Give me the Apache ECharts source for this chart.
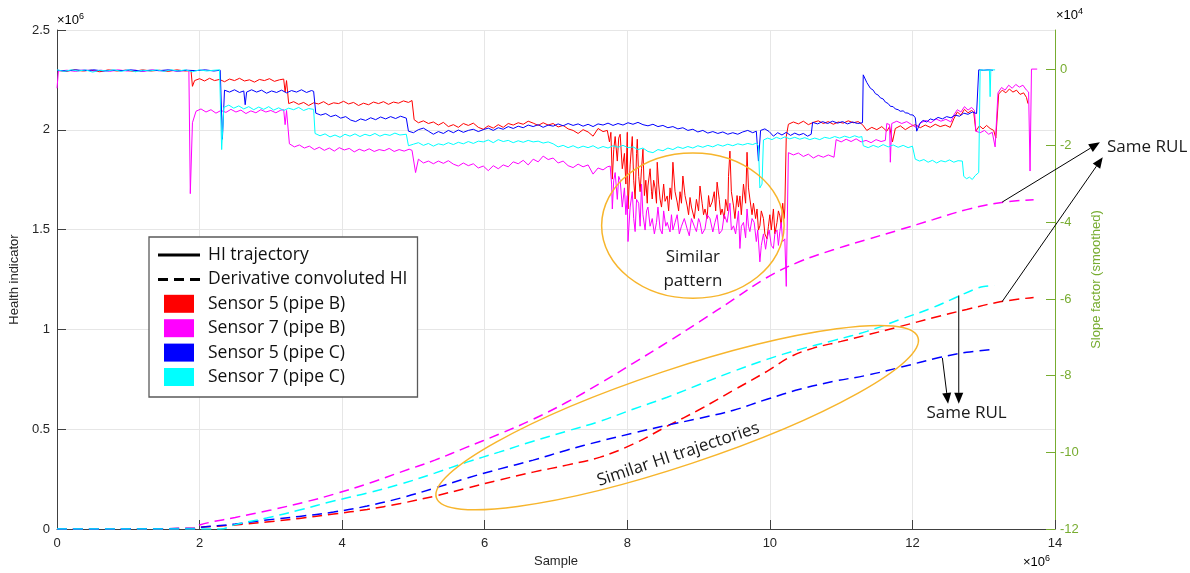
<!DOCTYPE html>
<html>
<head>
<meta charset="utf-8">
<title>Health indicator vs sample</title>
<script src="https://cdn.jsdelivr.net/npm/echarts@6/dist/echarts.min.js"></script>
<style>
  html, body { margin: 0; padding: 0; background: #fff; }
  #mychart { width: 1190px; height: 573px; }
</style>
</head>
<body>
<div id="mychart"></div>
<script>
// x in 1e6 samples, left axis in 1e6, right axis in 1e4
const slopeTicks = [-12, -10, -8, -6, -4, -2, 0];

// solid lines (right axis, slope factor)
const solid5B = [
  [0,-0.03],[0.12,-0.06],[0.24,-0.02],[0.36,-0.05],[0.48,-0.03],[0.6,-0.07],[0.72,-0.02],[0.84,-0.05],[0.96,-0.03],[1.08,-0.06],[1.2,-0.02],[1.32,-0.05],[1.44,-0.03],[1.56,-0.06],[1.68,-0.02],[1.8,-0.05],[1.88,-0.04],
  [1.9,-0.45],[1.93,-0.3],[2.0,-0.25],[2.07,-0.31],[2.14,-0.24],[2.21,-0.3],[2.28,-0.27],[2.35,-0.33],[2.42,-0.26],[2.49,-0.3],[2.56,-0.24],[2.63,-0.31],[2.7,-0.28],[2.77,-0.34],[2.84,-0.27],[2.91,-0.3],[2.98,-0.25],[3.05,-0.32],[3.12,-0.28],[3.18,-0.26],[3.2,-0.6],[3.22,-0.3],
  [3.25,-0.9],[3.32,-0.85],[3.39,-0.92],[3.46,-0.87],[3.53,-0.95],[3.6,-0.88],[3.67,-0.91],[3.74,-0.85],[3.81,-0.93],[3.88,-0.88],[3.95,-0.9],[4.02,-0.84],[4.09,-0.91],[4.16,-0.87],[4.23,-0.95],[4.3,-0.89],[4.37,-0.93],[4.44,-0.86],[4.51,-0.9],[4.58,-0.85],[4.65,-0.92],[4.72,-0.86],[4.79,-0.89],[4.86,-0.83],[4.93,-0.87],[4.98,-0.82],
  [5.01,-1.32],[5.07,-1.4],[5.14,-1.35],[5.21,-1.42],[5.28,-1.38],[5.35,-1.46],[5.42,-1.39],[5.49,-1.5],[5.56,-1.45],[5.63,-1.52],[5.7,-1.42],[5.77,-1.47],[5.84,-1.41],[5.91,-1.52],[5.98,-1.57],[6.05,-1.48],[6.12,-1.54],[6.19,-1.45],[6.26,-1.52],[6.33,-1.42],[6.4,-1.46],[6.47,-1.4],[6.54,-1.44],[6.61,-1.36],[6.68,-1.41],[6.75,-1.47],[6.82,-1.4],[6.89,-1.46],[6.96,-1.42],[7.03,-1.51],[7.1,-1.47],[7.17,-1.56],[7.24,-1.6],[7.31,-1.68],[7.38,-1.58],[7.45,-1.64],[7.52,-1.75],[7.59,-1.55],[7.66,-1.63],
  [7.72,-1.6],[7.75,-1.9],[7.77,-1.65],[7.79,-2.87],[7.81,-2.1],[7.83,-1.76],[7.86,-2.4],[7.88,-1.8],[7.9,-1.7],[7.93,-2.6],[7.96,-2.2],[7.98,-3.0],[8.0,-1.65],[8.01,-3.65],[8.04,-2.5],[8.07,-1.76],[8.09,-2.9],[8.11,-3.39],[8.13,-2.2],[8.14,-1.83],[8.16,-2.8],[8.18,-3.2],[8.2,-2.6],[8.22,-2.09],[8.24,-3.3],[8.26,-2.9],[8.28,-3.5],[8.29,-3.05],[8.32,-2.6],[8.34,-3.2],[8.35,-3.39],[8.37,-2.9],[8.39,-3.1],[8.41,-3.5],[8.42,-2.43],[8.44,-3.0],[8.46,-3.39],[8.48,-3.6],[8.51,-3.0],[8.53,-3.45],[8.56,-3.31],[8.58,-3.7],[8.6,-3.1],[8.62,-3.4],[8.64,-2.43],[8.67,-3.2],[8.7,-3.47],[8.72,-3.7],[8.74,-3.2],[8.76,-3.5],[8.78,-2.79],[8.81,-3.3],[8.84,-3.57],[8.86,-3.8],[8.88,-3.35],[8.9,-3.6],[8.92,-3.65],[8.94,-3.9],[8.97,-3.4],[9.0,-3.7],[9.02,-3.05],[9.05,-3.5],[9.07,-3.8],[9.09,-3.65],[9.12,-3.9],[9.14,-3.3],[9.16,-3.6],[9.19,-3.47],[9.22,-3.2],[9.24,-3.7],[9.26,-2.95],[9.29,-3.4],[9.31,-3.8],[9.33,-3.65],[9.36,-3.9],[9.38,-3.4],[9.41,-3.7],[9.42,-2.8],[9.44,-2.14],[9.46,-3.2],[9.49,-3.57],[9.51,-3.9],[9.54,-3.3],[9.56,-3.6],[9.58,-3.31],[9.6,-3.8],[9.63,-3.0],[9.66,-3.5],[9.68,-2.17],[9.7,-3.1],[9.72,-3.39],[9.75,-3.8],[9.77,-3.5],[9.8,-3.9],[9.82,-3.65],[9.84,-4.2],[9.86,-4.09],[9.88,-3.7],[9.91,-3.9],[9.93,-4.3],[9.96,-4.43],[9.98,-4.1],[10.0,-3.8],[10.02,-4.2],[10.05,-3.65],[10.07,-4.3],[10.1,-4.0],[10.12,-3.7],[10.14,-3.83],[10.16,-4.1],[10.18,-3.5],[10.2,-3.9],[10.21,-3.65],[10.23,-1.76],
  [10.26,-1.44],[10.33,-1.38],[10.4,-1.43],[10.47,-1.36],[10.54,-1.45],[10.61,-1.39],[10.68,-1.35],[10.75,-1.42],[10.82,-1.37],[10.89,-1.44],[10.96,-1.38],[11.03,-1.41],[11.1,-1.35],[11.17,-1.4],[11.24,-1.37],[11.3,-1.45],[11.36,-1.6],[11.43,-1.52],[11.5,-1.58],[11.57,-1.5],[11.64,-1.62],[11.68,-1.5],[11.72,-1.9],[11.76,-1.55],[11.83,-1.48],[11.9,-1.58],[11.97,-1.5],[12.04,-1.45],[12.11,-1.53],[12.18,-1.46],[12.25,-1.52],[12.32,-1.44],[12.39,-1.5],[12.46,-1.46],[12.53,-1.52],[12.58,-1.3],[12.63,-1.12],[12.68,-1.2],[12.73,-1.05],[12.78,-1.14],[12.83,-1.08],[12.86,-1.12],[12.89,-1.62],[12.94,-1.48],[12.99,-1.56],[13.04,-1.47],[13.09,-1.55],[13.14,-1.6],[13.17,-1.8],[13.21,-0.65],[13.26,-0.55],[13.31,-0.62],[13.36,-0.52],[13.41,-0.6],[13.46,-0.55],[13.51,-0.66],[13.56,-0.62],[13.6,-0.74],[13.62,-0.9]
];
const solid7B = [
  [0,-0.5],[0.02,-0.05],[0.14,-0.03],[0.26,-0.06],[0.38,-0.02],[0.5,-0.05],[0.62,-0.03],[0.74,-0.06],[0.86,-0.02],[0.98,-0.05],[1.1,-0.03],[1.22,-0.06],[1.34,-0.02],[1.46,-0.05],[1.58,-0.03],[1.7,-0.06],[1.82,-0.03],[1.85,-0.05],
  [1.87,-3.25],[1.9,-1.4],[1.95,-1.1],[2.02,-1.04],[2.09,-1.12],[2.16,-1.06],[2.23,-1.15],[2.3,-1.08],[2.37,-1.13],[2.44,-1.05],[2.51,-1.12],[2.58,-1.07],[2.65,-1.16],[2.72,-1.09],[2.79,-1.14],[2.86,-1.06],[2.93,-1.12],[3.0,-1.08],[3.07,-1.14],[3.14,-1.07],[3.18,-1.06],[3.2,-1.45],[3.22,-1.08],
  [3.26,-1.95],[3.33,-2.03],[3.4,-1.98],[3.47,-2.06],[3.54,-2.01],[3.61,-2.1],[3.68,-2.04],[3.75,-2.12],[3.82,-2.06],[3.89,-2.14],[3.96,-2.05],[4.03,-2.11],[4.1,-2.07],[4.17,-2.16],[4.24,-2.09],[4.31,-2.14],[4.38,-2.08],[4.45,-2.15],[4.52,-2.1],[4.59,-2.13],[4.66,-2.07],[4.73,-2.15],[4.8,-2.1],[4.87,-2.14],[4.94,-2.09],[4.98,-2.12],
  [5.03,-2.7],[5.07,-2.35],[5.14,-2.45],[5.21,-2.4],[5.28,-2.47],[5.35,-2.4],[5.42,-2.46],[5.49,-2.39],[5.56,-2.48],[5.63,-2.53],[5.7,-2.45],[5.77,-2.52],[5.84,-2.47],[5.91,-2.58],[5.98,-2.53],[6.05,-2.65],[6.12,-2.52],[6.19,-2.6],[6.26,-2.5],[6.33,-2.55],[6.4,-2.42],[6.47,-2.47],[6.54,-2.38],[6.61,-2.5],[6.68,-2.35],[6.75,-2.42],[6.82,-2.27],[6.89,-2.36],[6.96,-2.32],[7.03,-2.45],[7.1,-2.4],[7.17,-2.52],[7.24,-2.57],[7.31,-2.48],[7.38,-2.55],[7.45,-2.5],[7.52,-2.74],[7.59,-2.58],[7.66,-2.63],[7.72,-2.55],
  [7.76,-2.53],[7.78,-3.0],[7.79,-3.65],[7.81,-2.9],[7.83,-2.7],[7.86,-3.4],[7.88,-2.8],[7.9,-2.9],[7.93,-3.6],[7.96,-3.1],[7.98,-3.8],[8.0,-3.3],[8.01,-4.5],[8.04,-3.6],[8.07,-3.2],[8.09,-3.9],[8.11,-4.24],[8.13,-3.4],[8.16,-3.5],[8.18,-4.1],[8.2,-3.0],[8.22,-3.8],[8.25,-4.2],[8.27,-3.7],[8.29,-3.6],[8.32,-4.1],[8.35,-3.9],[8.38,-4.3],[8.41,-4.0],[8.43,-3.6],[8.46,-4.17],[8.49,-4.3],[8.51,-3.7],[8.54,-4.1],[8.56,-4.0],[8.6,-4.25],[8.62,-3.8],[8.64,-4.2],[8.67,-4.0],[8.7,-3.8],[8.73,-4.3],[8.76,-4.1],[8.8,-3.9],[8.84,-4.17],[8.87,-4.35],[8.9,-3.9],[8.94,-4.1],[8.97,-4.24],[9.0,-3.9],[9.02,-4.0],[9.05,-4.3],[9.09,-4.17],[9.12,-3.8],[9.16,-3.9],[9.2,-4.25],[9.23,-4.0],[9.26,-3.8],[9.29,-4.3],[9.33,-4.2],[9.36,-3.8],[9.4,-4.0],[9.44,-3.5],[9.46,-4.2],[9.49,-4.09],[9.52,-4.3],[9.56,-3.7],[9.58,-4.68],[9.6,-4.1],[9.63,-4.0],[9.66,-4.4],[9.68,-3.65],[9.7,-4.1],[9.72,-4.24],[9.75,-3.9],[9.78,-4.0],[9.81,-4.5],[9.83,-4.2],[9.86,-5.03],[9.88,-4.6],[9.91,-4.3],[9.94,-4.7],[9.96,-4.43],[9.99,-4.2],[10.02,-4.6],[10.05,-4.68],[10.07,-4.3],[10.1,-4.2],[10.12,-4.6],[10.14,-4.24],[10.16,-4.0],[10.18,-4.5],[10.21,-4.43],[10.23,-5.67],
  [10.26,-2.18],[10.33,-2.24],[10.4,-2.19],[10.47,-2.28],[10.54,-2.22],[10.61,-2.32],[10.68,-2.25],[10.75,-2.3],[10.82,-2.24],[10.9,-2.3],[10.93,-1.84],[11.0,-1.9],[11.07,-1.83],[11.14,-1.89],[11.21,-1.82],[11.28,-1.9],[11.35,-1.86],[11.42,-1.92],[11.49,-1.84],[11.56,-1.89],[11.62,-1.86],[11.64,-1.42],[11.68,-1.45],[11.69,-2.43],[11.71,-1.42],[11.78,-1.36],[11.85,-1.42],[11.92,-1.37],[11.99,-1.45],[12.05,-1.52],[12.12,-1.4],[12.19,-1.34],[12.26,-1.4],[12.33,-1.3],[12.4,-1.36],[12.47,-1.31],[12.54,-1.38],[12.58,-1.2],[12.63,-1.06],[12.68,-1.12],[12.73,-0.98],[12.78,-1.07],[12.83,-1.0],[12.87,-1.08],[12.89,-1.62],[12.95,-1.66],[13.01,-1.6],[13.07,-1.7],[13.12,-1.65],[13.16,-2.03],[13.2,-0.62],[13.25,-0.48],[13.3,-0.55],[13.35,-0.42],[13.4,-0.5],[13.45,-0.4],[13.5,-0.47],[13.55,-0.42],[13.6,-0.55],[13.63,-0.6],[13.65,-2.66],[13.67,0],[13.75,0]
];
const solid5C = [
  [0,-0.03],[0.13,-0.05],[0.26,-0.02],[0.39,-0.04],[0.52,-0.02],[0.65,-0.05],[0.78,-0.03],[0.91,-0.04],[1.04,-0.02],[1.17,-0.05],[1.3,-0.03],[1.43,-0.04],[1.56,-0.02],[1.69,-0.05],[1.82,-0.03],[1.95,-0.04],[2.08,-0.02],[2.2,-0.05],[2.29,-0.03],
  [2.32,-1.83],[2.35,-0.55],[2.42,-0.6],[2.49,-0.54],[2.56,-0.61],[2.62,-0.57],[2.64,-0.93],[2.66,-0.6],[2.73,-0.54],[2.8,-0.6],[2.87,-0.55],[2.94,-0.63],[3.01,-0.57],[3.08,-0.61],[3.15,-0.55],[3.22,-0.62],[3.29,-0.56],[3.36,-0.6],[3.43,-0.54],[3.5,-0.61],[3.57,-0.56],[3.6,-0.58],
  [3.63,-1.15],[3.7,-1.2],[3.77,-1.16],[3.84,-1.24],[3.91,-1.2],[3.98,-1.28],[4.05,-1.24],[4.12,-1.33],[4.19,-1.37],[4.26,-1.3],[4.33,-1.34],[4.4,-1.27],[4.47,-1.32],[4.54,-1.25],[4.61,-1.3],[4.68,-1.24],[4.75,-1.29],[4.82,-1.23],[4.9,-1.28],
  [4.93,-1.62],[5.0,-1.66],[5.07,-1.58],[5.14,-1.54],[5.21,-1.62],[5.28,-1.7],[5.35,-1.63],[5.42,-1.68],[5.49,-1.6],[5.56,-1.66],[5.63,-1.59],[5.7,-1.65],[5.77,-1.6],[5.84,-1.57],[5.91,-1.63],[5.98,-1.58],[6.05,-1.54],[6.12,-1.6],[6.19,-1.53],[6.26,-1.57],[6.33,-1.5],[6.4,-1.55],[6.47,-1.49],[6.54,-1.53],[6.61,-1.46],[6.68,-1.5],[6.75,-1.45],[6.82,-1.52],[6.89,-1.46],[6.96,-1.49],[7.03,-1.43],[7.1,-1.48],[7.17,-1.42],[7.24,-1.47],[7.31,-1.43],[7.38,-1.49],[7.45,-1.44],[7.52,-1.5],[7.59,-1.43],[7.66,-1.46],[7.73,-1.41],[7.8,-1.47],[7.87,-1.42],[7.94,-1.46],[8.01,-1.4],[8.08,-1.44],[8.15,-1.39],[8.22,-1.45],[8.29,-1.48],[8.36,-1.44],[8.43,-1.5],[8.5,-1.47],[8.57,-1.53],[8.64,-1.5],[8.71,-1.56],[8.78,-1.53],[8.85,-1.6],[8.92,-1.57],[8.99,-1.64],[9.06,-1.6],[9.13,-1.67],[9.2,-1.63],[9.27,-1.68],[9.34,-1.64],[9.41,-1.7],[9.48,-1.66],[9.55,-1.7],[9.62,-1.64],[9.69,-1.6],[9.76,-1.66],[9.81,-1.62],[9.84,-2.4],[9.87,-1.6],[9.93,-1.56],[9.99,-1.63],[10.05,-1.75],[10.11,-1.66],[10.17,-1.72],[10.23,-1.65],[10.29,-1.73],[10.35,-1.67],[10.41,-1.72],[10.47,-1.68],[10.53,-1.75],[10.58,-1.7],
  [10.6,-1.39],[10.67,-1.43],[10.74,-1.37],[10.81,-1.42],[10.88,-1.36],[10.95,-1.41],[11.02,-1.37],[11.09,-1.43],[11.16,-1.38],[11.23,-1.42],[11.3,-1.4],
  [11.31,-0.15],[11.36,-0.35],[11.41,-0.5],[11.45,-0.55],[11.48,-0.64],[11.52,-0.68],[11.55,-0.75],[11.59,-0.78],[11.62,-0.86],[11.66,-0.9],[11.69,-0.97],[11.73,-0.98],[11.76,-1.04],[11.8,-1.06],[11.83,-1.1],[11.87,-1.09],[11.9,-1.14],[11.94,-1.15],[11.97,-1.19],[12.01,-1.2],[12.04,-1.27],[12.06,-1.62],[12.11,-1.4],[12.15,-1.34],[12.2,-1.38],[12.25,-1.3],[12.3,-1.33],[12.36,-1.26],[12.42,-1.3],[12.48,-1.24],[12.54,-1.27],[12.6,-1.2],[12.66,-1.23],[12.72,-1.15],[12.78,-1.18],[12.84,-1.12],[12.9,-1.16],
  [12.93,-0.02],[13.0,-0.03],[13.06,-0.02],[13.13,-0.03]
];
const solid7C = [
  [0,-0.02],[0.1,-0.06],[0.2,-0.02],[0.3,-0.05],[0.4,-0.02],[0.5,-0.08],[0.6,-0.03],[0.7,-0.05],[0.8,-0.02],[0.9,-0.06],[1.0,-0.02],[1.1,-0.07],[1.2,-0.03],[1.3,-0.05],[1.4,-0.02],[1.5,-0.06],[1.6,-0.02],[1.7,-0.05],[1.8,-0.02],[1.9,-0.07],[2.0,-0.02],[2.1,-0.05],[2.2,-0.03],[2.28,-0.02],
  [2.31,-2.1],[2.34,-1.0],[2.41,-0.94],[2.48,-1.02],[2.55,-0.96],[2.62,-1.04],[2.69,-0.98],[2.76,-1.06],[2.83,-0.99],[2.9,-1.05],[2.97,-0.98],[3.04,-1.07],[3.11,-1.01],[3.18,-1.08],[3.25,-1.02],[3.32,-1.06],[3.39,-1.0],[3.46,-1.08],[3.53,-1.03],[3.6,-1.05],
  [3.62,-1.68],[3.69,-1.74],[3.76,-1.69],[3.83,-1.77],[3.9,-1.72],[3.97,-1.78],[4.04,-1.7],[4.11,-1.75],[4.18,-1.69],[4.25,-1.76],[4.32,-1.7],[4.39,-1.74],[4.46,-1.68],[4.53,-1.75],[4.6,-1.7],[4.67,-1.73],[4.74,-1.67],[4.81,-1.72],[4.9,-1.7],
  [4.93,-2.0],[5.0,-1.96],[5.07,-1.92],[5.14,-1.99],[5.21,-1.94],[5.28,-2.01],[5.35,-1.95],[5.42,-1.98],[5.49,-1.92],[5.56,-1.97],[5.63,-1.91],[5.7,-1.95],[5.77,-1.89],[5.84,-1.94],[5.91,-1.88],[5.98,-1.9],[6.05,-1.85],[6.12,-1.92],[6.19,-1.84],[6.26,-1.89],[6.33,-1.86],[6.4,-1.92],[6.47,-1.87],[6.54,-1.91],[6.61,-1.86],[6.68,-1.9],[6.75,-1.88],[6.82,-1.93],[6.89,-1.9],[6.96,-1.95],[7.03,-2.03],[7.1,-1.99],[7.17,-2.05],[7.24,-2.0],[7.31,-2.06],[7.38,-2.01],[7.45,-2.05],[7.52,-2.0],[7.59,-2.07],[7.66,-2.02],[7.73,-2.06],[7.8,-2.0],[7.87,-2.04],[7.94,-1.99],[8.01,-2.05],[8.08,-2.03],[8.15,-2.1],[8.22,-2.06],[8.29,-2.15],[8.36,-2.18],[8.43,-2.1],[8.5,-2.13],[8.57,-2.06],[8.64,-2.1],[8.71,-2.03],[8.78,-2.07],[8.85,-2.02],[8.92,-2.06],[8.99,-2.0],[9.06,-2.04],[9.13,-1.99],[9.2,-2.03],[9.27,-1.97],[9.34,-2.01],[9.41,-1.96],[9.48,-2.0],[9.55,-1.95],[9.62,-1.98],[9.69,-1.94],[9.76,-1.97],[9.81,-1.93],[9.84,-2.0],[9.86,-3.1],[9.89,-3.0],[9.91,-1.85],[9.97,-1.8],[10.03,-1.84],[10.09,-1.78],[10.15,-1.82],[10.21,-1.77],[10.28,-1.82],[10.35,-1.78],[10.42,-1.83],[10.49,-1.79],[10.56,-1.84],[10.63,-1.8],[10.7,-1.84],[10.77,-1.78],[10.84,-1.81],[10.91,-1.76],[10.98,-1.8],[11.05,-1.75],[11.12,-1.79],[11.19,-1.74],[11.25,-1.78],[11.29,-1.76],
  [11.31,-2.0],[11.38,-2.05],[11.45,-1.99],[11.52,-2.04],[11.59,-1.97],[11.66,-2.03],[11.73,-1.98],[11.8,-2.04],[11.87,-1.99],[11.94,-2.05],[12.0,-2.01],[12.02,-2.05],[12.04,-2.35],[12.1,-2.4],[12.16,-2.36],[12.22,-2.43],[12.28,-2.38],[12.34,-2.45],[12.4,-2.39],[12.46,-2.42],[12.52,-2.37],[12.58,-2.43],[12.64,-2.39],[12.7,-2.4],[12.72,-2.8],[12.76,-2.86],[12.8,-2.82],[12.84,-2.88],[12.88,-2.78],[12.93,-2.7],
  [12.95,-0.02],[13.02,-0.03],[13.08,-0.02],[13.09,-0.72],[13.1,-0.02],[13.16,-0.02]
];

// dashed lines (left axis, health indicator)
const dashed5B = [[0,0],[1.97,0.003],[2.0,0.008],[2.5,0.02],[2.94,0.035],[3.4,0.053],[3.88,0.075],[4.35,0.098],[4.82,0.128],[5.3,0.165],[5.75,0.205],[6.2,0.245],[6.68,0.285],[7.15,0.32],[7.62,0.36],[8.08,0.425],[8.56,0.515],[9.02,0.6],[9.49,0.695],[9.96,0.79],[10.3,0.865],[10.6,0.905],[11.0,0.94],[11.36,0.972],[11.83,1.015],[12.29,1.058],[12.76,1.1],[13.23,1.138],[13.7,1.16]];
const dashed7B = [[0,0],[1.97,0.003],[2.0,0.02],[2.5,0.058],[3.0,0.095],[3.5,0.137],[3.9,0.176],[4.4,0.232],[4.82,0.285],[5.3,0.345],[5.75,0.41],[6.2,0.475],[6.68,0.55],[7.15,0.635],[7.62,0.73],[8.08,0.83],[8.56,0.935],[9.02,1.04],[9.49,1.15],[9.96,1.26],[10.42,1.34],[10.9,1.4],[11.36,1.45],[11.83,1.5],[12.29,1.55],[12.76,1.6],[13.23,1.635],[13.7,1.65]];
const dashed5C = [[0,0],[1.97,0.003],[2.0,0.008],[2.5,0.025],[2.94,0.045],[3.4,0.063],[3.88,0.085],[4.35,0.115],[4.82,0.155],[5.3,0.205],[5.75,0.255],[6.2,0.3],[6.68,0.345],[7.15,0.395],[7.62,0.44],[8.08,0.48],[8.56,0.52],[9.02,0.555],[9.49,0.595],[9.96,0.65],[10.42,0.7],[10.9,0.74],[11.36,0.77],[11.83,0.81],[12.39,0.86],[12.76,0.885],[13.13,0.9]];
const dashed7C = [[0,0],[2.29,0],[2.5,0.022],[2.94,0.055],[3.4,0.095],[3.88,0.14],[4.35,0.18],[4.82,0.225],[5.3,0.28],[5.75,0.335],[6.2,0.385],[6.68,0.44],[7.15,0.49],[7.62,0.54],[8.08,0.6],[8.56,0.66],[9.02,0.725],[9.49,0.79],[9.96,0.85],[10.42,0.9],[10.9,0.945],[11.36,0.99],[11.83,1.05],[12.29,1.11],[12.67,1.17],[12.9,1.205],[13.0,1.215],[13.15,1.22]];

const sensorNames = ["Sensor 5 (pipe B)", "Sensor 7 (pipe B)", "Sensor 5 (pipe C)", "Sensor 7 (pipe C)"];
const sensorColors = ["#ff0000", "#ff00ff", "#0000ff", "#00ffff"];
const solidData = [solid5B, solid7B, solid5C, solid7C];
const dashedData = [dashed5B, dashed7B, dashed5C, dashed7C];

// annotation arrows, in data coords of the left axis
const orange = "#f7b52c";
const arrows = [
  [[13.26, 1.638], [14.63, 1.937]],
  [[13.26, 1.14], [14.67, 1.863]],
  [[12.42, 0.857], [12.5, 0.627]],
  [[12.65, 1.17], [12.65, 0.627]]
];

const axisGray = "#404040";
const textGray = "#262626";
const green = "#77ac30";

const chart = echarts.init(document.getElementById("mychart"));

const series = [
  { name: "HI trajectory", type: "line", yAxisIndex: 1, data: [], symbol: "none", color: "#000" },
  { name: "Derivative convoluted HI", type: "line", yAxisIndex: 0, data: [], symbol: "none", color: "#000", lineStyle: { type: [10, 6] } }
];
sensorNames.forEach((name, i) => {
  series.push({
    name: name, type: "line", yAxisIndex: 1, data: solidData[i],
    symbol: "none", color: sensorColors[i], lineStyle: { width: 1 }, z: 2
  });
});
sensorNames.forEach((name, i) => {
  series.push({
    name: name, type: "line", yAxisIndex: 0, data: dashedData[i], smooth: 0.4,
    symbol: "none", color: sensorColors[i], lineStyle: { width: 1.5, type: [10, 6] }, z: 3
  });
});

const option = {
  animation: false,
  backgroundColor: "#fff",
  grid: { left: 57, right: 135, top: 30, bottom: 41, containLabel: false },
  legend: {
    orient: "vertical", left: 149, top: 237,
    backgroundColor: "#fff", borderColor: "#5a5a5a", borderWidth: 1.3,
    padding: [9, 10, 11, 9],
    itemWidth: 42, itemHeight: 18, itemGap: 6.4,
    selectedMode: false,
    itemStyle: { borderWidth: 0 },
    textStyle: { fontFamily: "Open Sans", fontSize: 17.5, color: "#111", lineHeight: 18, padding: [0, 0, 0, 3] },
    data: [
      { name: "HI trajectory", icon: "path://M0,0H42V3H0Z" },
      { name: "Derivative convoluted HI", icon: "path://M0,0H10V3H0Z M16,0H26V3H16Z M32,0H42V3H32Z" },
      { name: sensorNames[0], icon: "path://M0,0H30V18H0Z" },
      { name: sensorNames[1], icon: "path://M0,0H30V18H0Z" },
      { name: sensorNames[2], icon: "path://M0,0H30V18H0Z" },
      { name: sensorNames[3], icon: "path://M0,0H30V18H0Z" }
    ]
  },
  xAxis: {
    type: "value", min: 0, max: 14, interval: 2,
    name: "Sample", nameLocation: "middle", nameGap: 26,
    nameTextStyle: { color: textGray, fontFamily: "Liberation Sans", fontSize: 13 },
    axisLine: { show: true, lineStyle: { color: axisGray } },
    axisTick: { show: true, inside: true, length: 9, lineStyle: { color: axisGray } },
    axisLabel: { color: textGray, fontFamily: "Liberation Sans", fontSize: 13, margin: 8 },
    splitLine: { show: true, lineStyle: { color: "#e6e6e6" } }
  },
  yAxis: [
    {
      type: "value", position: "left", min: 0, max: 2.5, interval: 0.5,
      name: "Health indicator", nameLocation: "middle", nameGap: 31,
      nameTextStyle: { color: textGray, fontFamily: "Liberation Sans", fontSize: 13 },
      axisLine: { show: true, lineStyle: { color: axisGray } },
      axisTick: { show: true, inside: true, length: 9, lineStyle: { color: axisGray } },
      axisLabel: { color: textGray, fontFamily: "Liberation Sans", fontSize: 13, margin: 7 },
      splitLine: { show: true, lineStyle: { color: "#e6e6e6" } }
    },
    {
      type: "value", position: "right", min: -12, max: 1.02,
      name: "Slope factor (smoothed)", nameLocation: "middle", nameGap: 33,
      nameTextStyle: { color: green, fontFamily: "Liberation Sans", fontSize: 13 },
      axisLine: { show: true, lineStyle: { color: green } },
      axisTick: { show: true, inside: true, length: 9, customValues: slopeTicks, lineStyle: { color: green } },
      axisLabel: { color: green, fontFamily: "Liberation Sans", fontSize: 13, margin: 5, customValues: slopeTicks },
      splitLine: { show: false }
    }
  ],
  series: series
};

chart.setOption(option);

// annotations drawn on top, positioned through the axes
function annotate() {
  const toPx = (p) => chart.convertToPixel({ xAxisIndex: 0, yAxisIndex: 0 }, p);
  const o = toPx([0, 0]);
  const u = toPx([1, 1]);
  const sx = u[0] - o[0];
  const sy = o[1] - u[1];
  const tl = toPx([0, 2.5]);
  const br = toPx([14, 0]);
  const g = [];

  // "Similar pattern" ellipse
  const c1 = toPx([8.92, 1.52]);
  g.push({ type: "ellipse", shape: { cx: c1[0], cy: c1[1], rx: 1.28 * sx, ry: 0.364 * sy },
    style: { fill: "none", stroke: orange, lineWidth: 1.5 }, z: 20 });
  const t1 = toPx([8.92, 1.30]);
  g.push({ type: "text", x: t1[0], y: t1[1], z: 21,
    style: { text: "Similar\npattern", align: "center", verticalAlign: "middle", lineHeight: 24,
      font: "17px 'Open Sans'", fill: "#1a1a1a" } });

  // "Similar HI trajectories" ellipse
  const c2 = toPx([8.70, 0.558]);
  const rot = 18.4 * Math.PI / 180;
  g.push({ type: "ellipse", x: c2[0], y: c2[1], rotation: rot,
    shape: { cx: 0, cy: 0, rx: 3.56 * sx, ry: 0.673 * sx },
    style: { fill: "none", stroke: orange, lineWidth: 1.5 }, z: 20 });
  const t2 = toPx([8.715, 0.373]);
  g.push({ type: "text", x: t2[0], y: t2[1], rotation: 18.5 * Math.PI / 180, z: 21,
    style: { text: "Similar HI trajectories", align: "center", verticalAlign: "middle",
      font: "17px 'Open Sans'", fill: "#1a1a1a" } });

  // Same RUL labels
  const t3 = toPx([14.73, 1.912]);
  g.push({ type: "text", x: t3[0], y: t3[1], z: 21,
    style: { text: "Same RUL", align: "left", verticalAlign: "middle", font: "17px 'Open Sans'", fill: "#1a1a1a" } });
  const t4 = toPx([12.76, 0.578]);
  g.push({ type: "text", x: t4[0], y: t4[1], z: 21,
    style: { text: "Same RUL", align: "center", verticalAlign: "middle", font: "17px 'Open Sans'", fill: "#1a1a1a" } });

  // arrows
  arrows.forEach(([a, b]) => {
    const p = toPx(a);
    const q = toPx(b);
    const dx = q[0] - p[0];
    const dy = q[1] - p[1];
    const len = Math.sqrt(dx * dx + dy * dy);
    const ux = dx / len;
    const uy = dy / len;
    const hl = 11;
    const hw = 4.5;
    const bx = q[0] - ux * hl;
    const by = q[1] - uy * hl;
    g.push({ type: "line", shape: { x1: p[0], y1: p[1], x2: bx, y2: by },
      style: { stroke: "#000", lineWidth: 1 }, z: 22 });
    g.push({ type: "polygon", shape: { points: [[q[0], q[1]], [bx - uy * hw, by + ux * hw], [bx + uy * hw, by - ux * hw]] },
      style: { fill: "#000" }, z: 22 });
  });

  // axis exponents
  const expRich = (color) => ({
    a: { fontFamily: "Liberation Sans", fontSize: 13, color: color, lineHeight: 16 },
    b: { fontFamily: "Liberation Sans", fontSize: 9, color: color, verticalAlign: "top", lineHeight: 9 }
  });
  g.push({ type: "text", x: tl[0], y: tl[1] - 2, z: 21,
    style: { text: "{a|×10}{b|6}", rich: expRich(textGray), align: "left", verticalAlign: "bottom" } });
  g.push({ type: "text", x: br[0] + 1, y: tl[1] - 7, z: 21,
    style: { text: "{a|×10}{b|4}", rich: expRich(green), align: "left", verticalAlign: "bottom" } });
  g.push({ type: "text", x: br[0] - 32, y: br[1] + 41, z: 21,
    style: { text: "{a|×10}{b|6}", rich: expRich(textGray), align: "left", verticalAlign: "bottom" } });

  chart.setOption({ graphic: g });
}
annotate();

window.addEventListener("resize", () => {
  chart.resize();
  annotate();
});
</script>
</body>
</html>
